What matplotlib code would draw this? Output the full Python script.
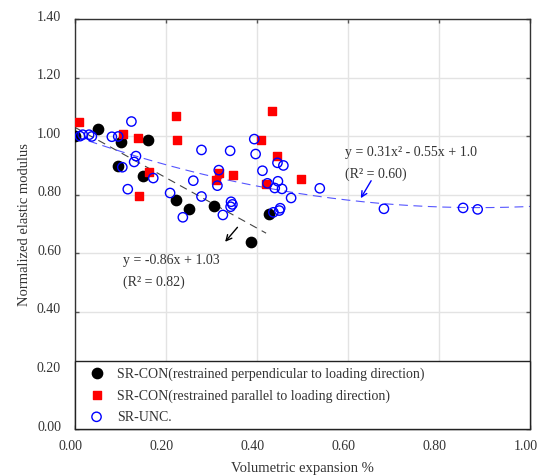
import numpy as np
import matplotlib
matplotlib.use("Agg")
import matplotlib.pyplot as plt
import matplotlib.transforms as mtransforms
from matplotlib.ticker import FormatStrFormatter

# --- Data ---
perp_x = [0.000, 0.051, 0.101, 0.160, 0.094, 0.149, 0.222, 0.251, 0.306, 0.387, 0.426]
perp_y = [1.000, 1.023, 0.979, 0.987, 0.899, 0.863, 0.782, 0.753, 0.762, 0.640, 0.733]

par_x = [0.009, 0.106, 0.138, 0.163, 0.141, 0.221, 0.225, 0.317, 0.311, 0.347,
         0.409, 0.432, 0.445, 0.419, 0.497]
par_y = [1.050, 1.008, 0.995, 0.879, 0.797, 1.070, 0.986, 0.874, 0.850, 0.868,
         0.987, 1.085, 0.932, 0.837, 0.853]

unc_x = [0.011, 0.017, 0.031, 0.037, 0.081, 0.095, 0.124, 0.134, 0.130, 0.104,
         0.172, 0.116, 0.209, 0.237, 0.260, 0.278, 0.278, 0.316, 0.313, 0.325,
         0.341, 0.343, 0.346, 0.342, 0.394, 0.397, 0.412, 0.423, 0.445, 0.458,
         0.446, 0.439, 0.455, 0.475, 0.538, 0.436, 0.449, 0.451, 0.679, 0.853,
         0.885]
unc_y = [1.000, 1.005, 1.005, 0.999, 0.998, 0.999, 1.050, 0.932, 0.912, 0.894,
         0.857, 0.819, 0.806, 0.723, 0.848, 0.953, 0.794, 0.884, 0.831, 0.731,
         0.950, 0.776, 0.767, 0.759, 0.990, 0.939, 0.882, 0.839, 0.909, 0.900,
         0.846, 0.823, 0.820, 0.789, 0.822, 0.740, 0.746, 0.754, 0.752, 0.755,
         0.750]

# fitted trends
lin_a, lin_b = -0.86, 1.03
quad_a, quad_b, quad_c = 0.31, -0.55, 1.0

labels = ["SR-CON(restrained perpendicular to loading direction)",
          "SR-CON(restrained parallel to loading direction)",
          "SR-UNC."]

plt.rcParams["font.family"] = ["Liberation Serif", "DejaVu Serif"]
txt = "#333333"

fig = plt.figure(figsize=(5.38, 4.77), dpi=100)
ax = fig.add_axes([0.1394, 0.0985, 0.8457, 0.8595])

ax.grid(True, color="#e3e3e3", linewidth=1)
ax.set_axisbelow(True)

# trend lines
xl = np.linspace(0, 0.42, 50)
ax.plot(xl, lin_a * xl + lin_b, color="#444444", linewidth=0.8, dashes=(7, 5))
xq = np.linspace(0, 1.0, 200)
ax.plot(xq, quad_a * xq**2 + quad_b * xq + quad_c, color="#5555ff",
        linewidth=0.8, dashes=(8, 5))

ax.scatter(perp_x, perp_y, s=55, color="black", label=labels[0], zorder=3)
ax.scatter(par_x, par_y, s=30, marker="s", color="red", label=labels[1], zorder=3)
ax.scatter(unc_x, unc_y, s=45, facecolors="none", edgecolors="blue",
           linewidths=1, label=labels[2], zorder=4)

# equation labels
ax.text(0.106, 0.580, "y = -0.86x + 1.03", fontsize=10, color=txt, va="center")
ax.text(0.106, 0.506, "(R² = 0.82)", fontsize=10, color=txt, va="center")
ax.annotate("", xy=(0.326, 0.632), xytext=(0.361, 0.696),
            arrowprops=dict(arrowstyle="->", color="black", lw=1, mutation_scale=10))
ax.text(0.593, 0.947, "y = 0.31x² - 0.55x + 1.0", fontsize=10, color=txt, va="center")
ax.text(0.593, 0.873, "(R² = 0.60)", fontsize=10, color=txt, va="center")
ax.annotate("", xy=(0.625, 0.780), xytext=(0.654, 0.856),
            arrowprops=dict(arrowstyle="->", color="blue", lw=1, mutation_scale=10))

ax.set_xlim(0, 1.0)
ax.set_ylim(0, 1.4)
ax.set_xticks(np.arange(0, 1.01, 0.2))
ax.set_yticks(np.arange(0, 1.41, 0.2))
ax.xaxis.set_major_formatter(FormatStrFormatter("%.2f"))
ax.yaxis.set_major_formatter(FormatStrFormatter("%.2f"))
ax.tick_params(direction="in", top=True, right=True, length=3, width=1,
               color="#555555", labelsize=10, labelcolor=txt)
ax.tick_params(axis="y", pad=10)
ax.tick_params(axis="x", pad=7)
for s in ax.spines.values():
    s.set_color("#333333")
    s.set_linewidth(1)

# x tick labels sit a little left of their ticks, y tick labels a little above
shift_x = mtransforms.ScaledTranslation(-0.045, 0, fig.dpi_scale_trans)
shift_y = mtransforms.ScaledTranslation(0, 0.045, fig.dpi_scale_trans)
for lab in ax.get_xticklabels():
    lab.set_transform(lab.get_transform() + shift_x)
for lab in ax.get_yticklabels():
    lab.set_transform(lab.get_transform() + shift_y)

ax.set_xlabel("Volumetric expansion %", fontsize=10.5, color=txt, labelpad=7)
ax.set_ylabel("Normalized elastic modulus", fontsize=10.5, color=txt, labelpad=4)

leg = ax.legend(loc="lower left", bbox_to_anchor=(0, 0, 1, 0.17), mode="expand",
                borderaxespad=0, fancybox=False, framealpha=1, fontsize=10,
                handlelength=2.3, handletextpad=0.3, labelspacing=0.6,
                borderpad=0.4, scatterpoints=1)
leg.get_frame().set_edgecolor("#222222")
leg.get_frame().set_linewidth(1)
for t in leg.get_texts():
    t.set_color(txt)
leg.set_zorder(5)

fig.savefig("out.png", dpi=100)
